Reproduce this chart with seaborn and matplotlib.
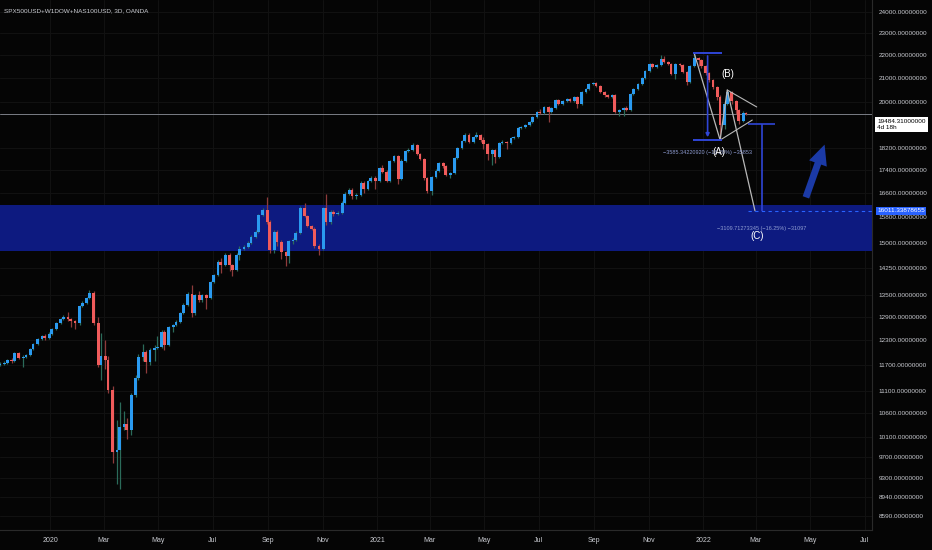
import pandas as pd
import matplotlib
matplotlib.use("Agg")
import matplotlib.pyplot as plt
import matplotlib.transforms as mtransforms
from matplotlib.ticker import FixedLocator, NullLocator, FuncFormatter
import seaborn as sns

# ---------------- data ----------------
title = "SPX500USD+W1DOW+NAS100USD, 3D, OANDA"
bar_start = "2019-11-06"
first_open = 11700

closes = [11719, 11742, 11813, 11790, 11984, 11860, 11886, 11935, 12082, 12205,
          12330, 12407, 12356, 12457, 12583, 12738, 12842, 12895, 12842, 12790,
          12738, 13187, 13268, 13404, 13542, 12738, 11695, 11910, 11813, 11114,
          9795, 9835, 10306, 10370, 10243, 11002, 11388, 11886, 12009, 11766,
          12058, 12107, 12131, 12507, 12180, 12634, 12686, 12764, 13001, 13214,
          13514, 13001, 13486, 13349, 13486, 13404, 13849, 14047, 14425, 14338,
          14630, 14338, 14191, 14630, 14812, 14873, 14994, 15178, 15333, 15874,
          16034, 15649, 14782, 15333, 15024, 14721, 14600, 15054, 15084, 15302,
          16100, 15842, 15522, 15428, 14903, 14812, 16100, 15649, 15970, 15906,
          15938, 16267, 16568, 16702, 16500, 16534, 16942, 16736, 17010, 17115,
          17010, 17469, 17327, 17010, 17719, 17901, 17080, 17719, 18083, 18120,
          18305, 17974, 17791, 17115, 16668, 17150, 17363, 17647, 17540, 17220,
          17291, 17828, 18194, 18454, 18682, 18417, 18606, 18682, 18492, 18342,
          17974, 18120, 17864, 18380, 18417, 18380, 18568, 18606, 18951, 18990,
          19068, 19183, 19378, 19578, 19538, 19777, 19578, 19737, 20062, 19899,
          20021, 20103, 20021, 20186, 19899, 20392, 20515, 20726, 20769, 20641,
          20392, 20268, 20186, 20268, 19578, 19658, 19737, 19658, 20309, 20515,
          20726, 20982, 21283, 21588, 21457, 21545, 21808, 21675, 21588, 21153,
          21588, 21545, 21240, 20812, 21500, 21850, 21763, 21500, 21196, 20897,
          20600, 20186, 19068, 19899, 20392, 20021, 19658, 19222, 19538, 19484.31]

highs = [11770, 11790, 11850, 11860, 12010, 12010, 11930, 11970, 12110, 12240,
         12360, 12440, 12450, 12500, 12610, 12770, 12880, 12960, 13030, 12880,
         12830, 13220, 13320, 13440, 13620, 13600, 12900, 12480, 12300, 11900,
         11200, 10450, 10850, 10650, 10500, 11050, 11450, 11950, 12200, 12050,
         12110, 12180, 12400, 12560, 12560, 12670, 12720, 12830, 13040, 13260,
         13560, 13760, 13520, 13600, 13520, 13520, 13890, 14090, 14470, 14530,
         14700, 14680, 14370, 14680, 14900, 14920, 15040, 15230, 15380, 15920,
         16100, 16450, 15700, 15400, 15380, 15100, 14760, 15100, 15140, 15360,
         16180, 16250, 15880, 15560, 15480, 14950, 16150, 16550, 16050, 16050,
         16000, 16320, 16620, 16760, 16760, 16600, 17000, 17000, 17060, 17170,
         17170, 17520, 17560, 17380, 17770, 17950, 17950, 17780, 18130, 18200,
         18370, 18340, 18010, 17830, 17150, 17200, 17420, 17700, 17700, 17580,
         17340, 17880, 18240, 18500, 18740, 18760, 18660, 18800, 18720, 18600,
         18380, 18170, 18170, 18430, 18480, 18460, 18620, 18660, 19000, 19040,
         19120, 19230, 19420, 19620, 19700, 19820, 19820, 19790, 20110, 20100,
         20070, 20150, 20160, 20230, 20230, 20440, 20570, 20780, 20830, 20810,
         20680, 20420, 20300, 20310, 20300, 19710, 19780, 19830, 20360, 20560,
         20780, 21030, 21330, 21640, 21620, 21600, 22000, 21950, 21720, 21620,
         21640, 21640, 21580, 21280, 21560, 22070, 21900, 21800, 21550, 21250,
         20950, 20650, 20250, 19950, 20474, 20420, 20080, 19700, 19600, 19580]

lows = [11660, 11690, 11720, 11750, 11770, 11830, 11640, 11860, 11910, 12060,
        12180, 12300, 12300, 12330, 12430, 12560, 12710, 12820, 12790, 12640,
        12590, 12700, 13150, 13240, 13380, 12700, 11640, 11350, 11600, 11050,
        9580, 9180, 9080, 10250, 10050, 10150, 10960, 11350, 11800, 11500,
        11700, 11800, 12070, 12100, 12050, 12150, 12500, 12650, 12740, 12980,
        13190, 12900, 12960, 13300, 13300, 13120, 13380, 13830, 14020, 14100,
        14300, 14150, 14020, 14170, 14480, 14790, 14850, 14970, 15150, 15300,
        15850, 15600, 14700, 14700, 14900, 14500, 14300, 14400, 14950, 15060,
        15280, 15800, 15480, 15380, 14850, 14630, 14780, 15550, 15600, 15850,
        15880, 15900, 16240, 16540, 16400, 16400, 16500, 16600, 16700, 16980,
        16750, 16980, 17280, 16960, 16980, 17680, 16900, 17040, 17680, 18050,
        18080, 17930, 17750, 17060, 16600, 16520, 17120, 17330, 17480, 17170,
        17100, 17260, 17800, 18160, 18430, 18370, 18380, 18570, 18420, 18150,
        17760, 17570, 17650, 17830, 18350, 18150, 18350, 18540, 18580, 18920,
        18960, 19040, 19160, 19350, 19480, 19500, 19200, 19540, 19710, 19850,
        19870, 19990, 19980, 19990, 19750, 19870, 20360, 20490, 20700, 20600,
        20350, 20200, 20130, 20150, 19530, 19400, 19400, 19600, 19620, 20280,
        20490, 20700, 20950, 21250, 21400, 21420, 21520, 21620, 21540, 21100,
        20950, 21490, 21180, 20700, 20760, 21470, 21500, 21400, 21100, 20800,
        20500, 20050, 18490, 18900, 19850, 19900, 19500, 19100, 19180, 19440]

price_ticks = [24000, 23000, 22000, 21000, 20000, 18200, 17400, 16600, 15800,
               15000, 14250, 13500, 12900, 12300, 11700, 11100, 10600, 10100,
               9700, 9300, 8940, 8590]
month_ticks = ["2020-01-01", "2020-03-01", "2020-05-01", "2020-07-01", "2020-09-01",
               "2020-11-01", "2021-01-01", "2021-03-01", "2021-05-01", "2021-07-01",
               "2021-09-01", "2021-11-01", "2022-01-01", "2022-03-01", "2022-05-01",
               "2022-07-01"]
month_labels = ["2020", "Mar", "May", "Jul", "Sep", "Nov", "2021", "Mar", "May",
                "Jul", "Sep", "Nov", "2022", "Mar", "May", "Jul"]

last_price = 19484.31
countdown = "4d 18h"
target_price = 16011.33878655
zone_top = 16200
zone_bottom = 14750
peak_price = 22070
a_price = 18490
b_price = 20474
b2_start = 19121
move1_text = "\u22123585.34220920 (\u221216.28%) \u221235853"
move2_text = "\u22123109.71273345 (\u221216.25%) \u221231097"

# ---------------- style ----------------
bg = "#050505"
up_col, down_col = "#2a9af0", "#f05b5b"
up_wick, down_wick = "#2b6b5a", "#8e3b3b"
measure_col = "#2f45d6"
grid_col = "#111111"
text_col = "#c9cbd1"

sns.set_theme(style="dark", rc={"axes.facecolor": bg, "figure.facecolor": bg})
plt.rcParams["font.family"] = ["Liberation Sans", "DejaVu Sans"]

dates = pd.bdate_range(bar_start, periods=len(closes), freq="3B")
df = pd.DataFrame({"date": dates,
                   "open": [first_open] + closes[:-1],
                   "high": highs, "low": lows, "close": closes})
df["up"] = df["close"] >= df["open"]
df["body_lo"] = df[["open", "close"]].min(axis=1)
df["body_h"] = (df["close"] - df["open"]).abs().clip(lower=15)

fig = plt.figure(figsize=(9.32, 5.5), dpi=100)
ax = fig.add_axes([0, 20 / 550, 872 / 932, 530 / 550])
ax.set_facecolor(bg)
ax.set_yscale("log")
ax.set_axisbelow(True)

x_left = pd.Timestamp("2019-11-06")
x_right = pd.Timestamp("2022-07-09")
ax.set_xlim(x_left, x_right)
ax.set_ylim(8357, 24594)

# support zone (covers the grid)
ax.axhspan(zone_bottom, zone_top, color="#0d1a80", zorder=1, lw=0)

# candles
ax.vlines(df["date"], df["low"], df["high"],
          colors=[up_wick if u else down_wick for u in df["up"]], lw=0.9, zorder=2)
ax.bar(df["date"], df["body_h"], bottom=df["body_lo"], width=3.1,
       color=[up_col if u else down_col for u in df["up"]], lw=0, zorder=3)

# current price line
ax.axhline(last_price, color="#7a7d86", lw=0.7, zorder=1.5)

last = dates[-1]
day = pd.Timedelta(days=1)

# ABC wave through seaborn
wave = pd.DataFrame({"date": [dates[185], dates[192], dates[194], last + 10 * day],
                     "price": [peak_price, a_price, b_price, target_price]})
sns.lineplot(data=wave, x="date", y="price", sort=False, color="#b8b8b8",
             lw=0.9, ax=ax, zorder=4)

# triangle
ax.plot([dates[194], last + 12 * day], [b_price, 19780], color="#b8b8b8", lw=0.8, zorder=4)
ax.plot([dates[192], last + 7 * day], [a_price, 19260], color="#b8b8b8", lw=0.8, zorder=4)

# measurement 1 (peak -> A)
m1_x = dates[188] + 2 * day
ax.hlines([peak_price, a_price], dates[185] - day, dates[192] + 2 * day,
          colors=measure_col, lw=1.4, zorder=4)
ax.annotate("", xy=(m1_x, a_price), xytext=(m1_x, peak_price),
            arrowprops=dict(arrowstyle="-|>", color=measure_col, lw=1.2,
                            mutation_scale=5), zorder=4)
ax.text(m1_x, 18020, move1_text, color="#8d9bd0", fontsize=4, ha="center", va="center", zorder=5)

# measurement 2 (B leg -> target)
m2_x = last + 18 * day
ax.hlines(b2_start, last + 2 * day, last + 32 * day, colors=measure_col, lw=1.2, zorder=4)
ax.vlines(m2_x, target_price, b2_start, colors=measure_col, lw=1.2, zorder=4)
ax.hlines(target_price, last + 2 * day, x_right, colors="#2962ff", lw=0.8,
          linestyles=(0, (3, 3)), zorder=4)
ax.text(m2_x, 15440, move2_text, color="#8d9bd0", fontsize=4, ha="center", va="center", zorder=5)

# wave labels
ax.text(dates[192] - 1 * day, 18030, "(A)", color="white", fontsize=7, ha="center", va="center", zorder=6)
ax.text(dates[194] + 1 * day, 21150, "(B)", color="white", fontsize=7, ha="center", va="center", zorder=6)
ax.text(last + 12 * day, 15210, "(C)", color="white", fontsize=7, ha="center", va="center", zorder=6)

# projection arrow
ax.annotate("", xy=(pd.Timestamp("2022-05-18"), 18418),
            xytext=(pd.Timestamp("2022-04-25"), 16366),
            arrowprops=dict(arrowstyle="simple,head_length=1.6,head_width=1.5,tail_width=0.55",
                            color="#1b3aa6", mutation_scale=9, lw=0), zorder=4)

# axes / ticks
ax.yaxis.tick_right()
ax.yaxis.set_major_locator(FixedLocator(price_ticks))
ax.yaxis.set_minor_locator(NullLocator())
ax.yaxis.set_major_formatter(FuncFormatter(lambda v, p: f"{v:.8f}"))
ax.set_xticks(pd.to_datetime(month_ticks))
ax.set_xticklabels(month_labels)
ax.tick_params(axis="y", length=0, pad=5, labelsize=4.6, labelcolor=text_col)
ax.tick_params(axis="x", length=0, pad=5, labelsize=5, labelcolor=text_col)
ax.grid(True, color=grid_col, lw=0.8, zorder=0)
ax.set_xlabel("")
ax.set_ylabel("")
for side in ["left", "top"]:
    ax.spines[side].set_visible(False)
for side in ["right", "bottom"]:
    ax.spines[side].set_color("#2a2a2a")
    ax.spines[side].set_linewidth(0.8)

# price labels on the axis
trans = mtransforms.blended_transform_factory(ax.transAxes, ax.transData)
ax.text(1.006, 19100, f"{last_price:.8f}\n{countdown}", transform=trans, fontsize=4.6,
        color="black", ha="left", va="center", linespacing=1.3, clip_on=False, zorder=10,
        bbox=dict(boxstyle="square,pad=0.3", fc="white", ec="none"))
ax.text(1.006, target_price, f"{target_price:.8f}", transform=trans, fontsize=4.6,
        color="white", ha="left", va="center", clip_on=False, zorder=10,
        bbox=dict(boxstyle="square,pad=0.2", fc="#2962ff", ec="none"))

fig.text(4 / 932, 1 - 11 / 550, title, fontsize=4.6, color=text_col, ha="left", va="center")

fig.savefig("out.png", dpi=100, facecolor=bg)
